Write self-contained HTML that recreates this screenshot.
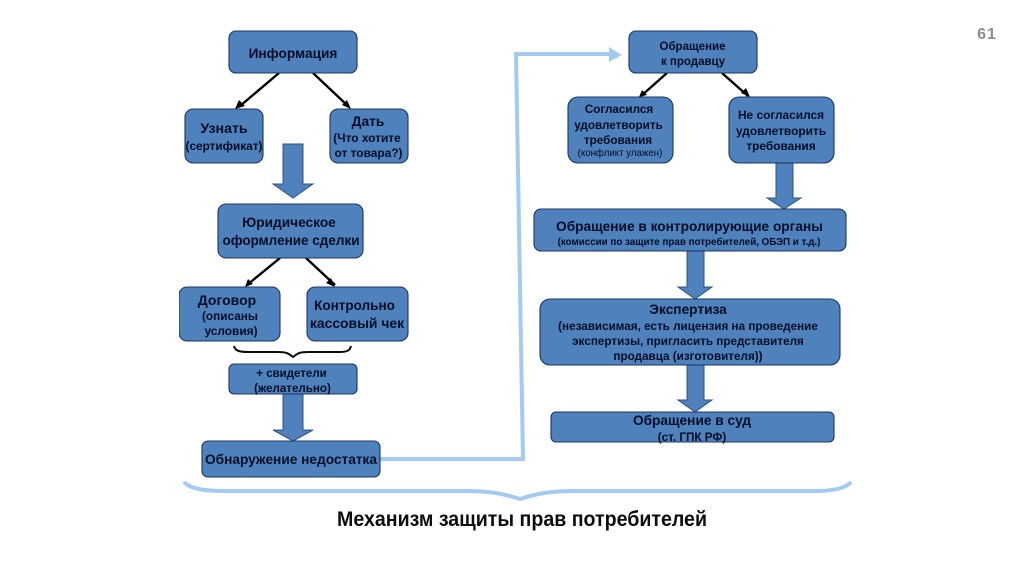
<!DOCTYPE html>
<html><head><meta charset="utf-8"><style>
html,body{margin:0;padding:0;background:#fff;width:1024px;height:574px;overflow:hidden}
svg{display:block}
text{font-family:"Liberation Sans",sans-serif;text-anchor:middle;fill:#060f26;font-weight:bold}
.box{fill:#4f81bd;stroke:#1c3560;stroke-width:1.1}
.arr{fill:#4f81bd;stroke:#2f5283;stroke-width:1}
.ln{stroke:#000;stroke-width:2.4;fill:none}
.lb{stroke:#a3cbf1;stroke-width:4;fill:none}
</style></head><body>
<svg width="1024" height="574" viewBox="0 0 1024 574" xmlns="http://www.w3.org/2000/svg">
<defs><filter id="s" x="0" y="0" width="100%" height="100%"><feGaussianBlur stdDeviation="0.28"/></filter></defs>
<g filter="url(#s)">
<text x="987" y="39" style="font-size:16px;fill:#8c8c8c;letter-spacing:1px">61</text>

<!-- connectors -->
<g class="ln">
<path d="M279 73L240 106M313 73L348 106M280 258L247 285M306 258L335 285M667 73L641 96M722 73L748 96"/>
</g>
<g fill="#000">
<path d="M235 109L239 100L245 106Z"/><path d="M351 109L342 105L347 100Z"/>
<path d="M245 287L248 279L253 284Z"/><path d="M335 287L326 283L331 278Z"/>
<path d="M639 97L642 90L647 95Z"/><path d="M750 97L741 93L746 88Z"/>
</g>

<!-- block arrows -->
<path class="arr" d="M283 144H303V184H313L293 198L273 184H283Z"/>
<path class="arr" d="M283 394H303V430H313L293 441L273 430H283Z"/>
<path class="arr" d="M776 163H793V198H801L784 209L767 198H776Z"/>
<path class="arr" d="M687 251H704V287H712L695 299L678 287H687Z"/>
<path class="arr" d="M687 365H704V400H712L695 412L678 400H687Z"/>

<!-- light blue connector -->
<path class="lb" d="M380 459H523L516 54H610"/>
<path d="M609 47L622 55L609 62Z" fill="#a3cbf1"/>

<!-- boxes -->
<rect class="box" x="229" y="31" width="128" height="42" rx="7"/>
<rect class="box" x="185" y="109" width="78" height="54" rx="8"/>
<rect class="box" x="330" y="109" width="78" height="54" rx="8"/>
<rect class="box" x="218" y="204" width="145" height="54" rx="8"/>
<rect class="box" x="179" y="287" width="101" height="54" rx="8"/>
<rect class="box" x="307" y="287" width="101" height="54" rx="8"/>
<rect class="box" x="229" y="364" width="128" height="30" rx="5"/>
<rect class="box" x="202" y="441" width="178" height="36" rx="6"/>
<rect class="box" x="629" y="31" width="128" height="42" rx="7"/>
<rect class="box" x="568" y="97" width="105" height="66" rx="10"/>
<rect class="box" x="729" y="97" width="105" height="66" rx="10"/>
<rect class="box" x="534" y="209" width="312" height="42" rx="7"/>
<rect class="box" x="540" y="299" width="300" height="66" rx="10"/>
<rect class="box" x="551" y="412" width="283" height="30" rx="5"/>

<!-- braces -->
<path d="M234 346C235 351 240 352 248 352H278C286 352 288 353 293 357C298 353 300 352 308 352H340C346 352 350 351 351 346" fill="none" stroke="#111" stroke-width="2"/>
<path d="M184 482C190 489 205 491 225 491H465C490 491 505 494 520 499C535 494 550 491 575 491H815C835 491 846 488 851 482" fill="none" stroke="#a3cbf1" stroke-width="4"/>

<!-- left labels -->
<text x="293" y="58" style="font-size:13.7px">Информация</text>
<text x="224" y="133" style="font-size:14.2px">Узнать</text>
<text x="224" y="150" style="font-size:11.8px">(сертификат)</text>
<text x="368" y="126" style="font-size:13.8px">Дать</text>
<text x="367" y="142" style="font-size:11.9px">(Что хотите</text>
<text x="368.5" y="157" style="font-size:11.9px">от товара?)</text>
<text x="289" y="227" style="font-size:13.7px">Юридическое</text>
<text x="291" y="245" style="font-size:13.5px">оформление сделки</text>
<text x="227" y="305" style="font-size:14px">Договор</text>
<text x="230" y="320" style="font-size:11.8px">(описаны</text>
<text x="231" y="335" style="font-size:11.9px">условия)</text>
<text x="354.5" y="310" style="font-size:13.5px">Контрольно</text>
<text x="357" y="328" style="font-size:13.9px">кассовый чек</text>
<text x="291.5" y="377" style="font-size:11.5px">+ свидетели</text>
<text x="292.5" y="392" style="font-size:11.6px">(желательно)</text>
<text x="291" y="464" style="font-size:13.7px">Обнаружение недостатка</text>

<!-- right labels -->
<text x="692.5" y="50" style="font-size:11.5px">Обращение</text>
<text x="693" y="65" style="font-size:11.5px">к продавцу</text>
<text x="619" y="113" style="font-size:11.7px">Согласился</text>
<text x="618.5" y="129" style="font-size:11.7px">удовлетворить</text>
<text x="618" y="144" style="font-size:11.7px">требования</text>
<text x="620" y="156" style="font-size:9.7px;font-weight:normal">(конфликт улажен)</text>
<text x="781" y="119" style="font-size:11.9px">Не согласился</text>
<text x="781" y="135" style="font-size:11.9px">удовлетворить</text>
<text x="781" y="150" style="font-size:11.9px">требования</text>
<text x="689.5" y="231" style="font-size:13.7px">Обращение в контролирующие органы</text>
<text x="689" y="245" style="font-size:9.8px">(комиссии по защите прав потребителей, ОБЭП и т.д.)</text>
<text x="688" y="314" style="font-size:13.7px">Экспертиза</text>
<text x="688" y="330" style="font-size:11.7px">(независимая, есть лицензия на проведение</text>
<text x="688" y="345" style="font-size:11.7px">экспертизы, пригласить представителя</text>
<text x="688" y="360" style="font-size:11.7px">продавца (изготовителя))</text>
<text x="692" y="425" style="font-size:13.7px">Обращение в суд</text>
<text x="692" y="441" style="font-size:11.7px">(ст. ГПК РФ)</text>

<text x="522" y="526" textLength="370" lengthAdjust="spacingAndGlyphs" style="font-size:21px;fill:#111">Механизм защиты прав потребителей</text>
</g>
</svg>
</body></html>
